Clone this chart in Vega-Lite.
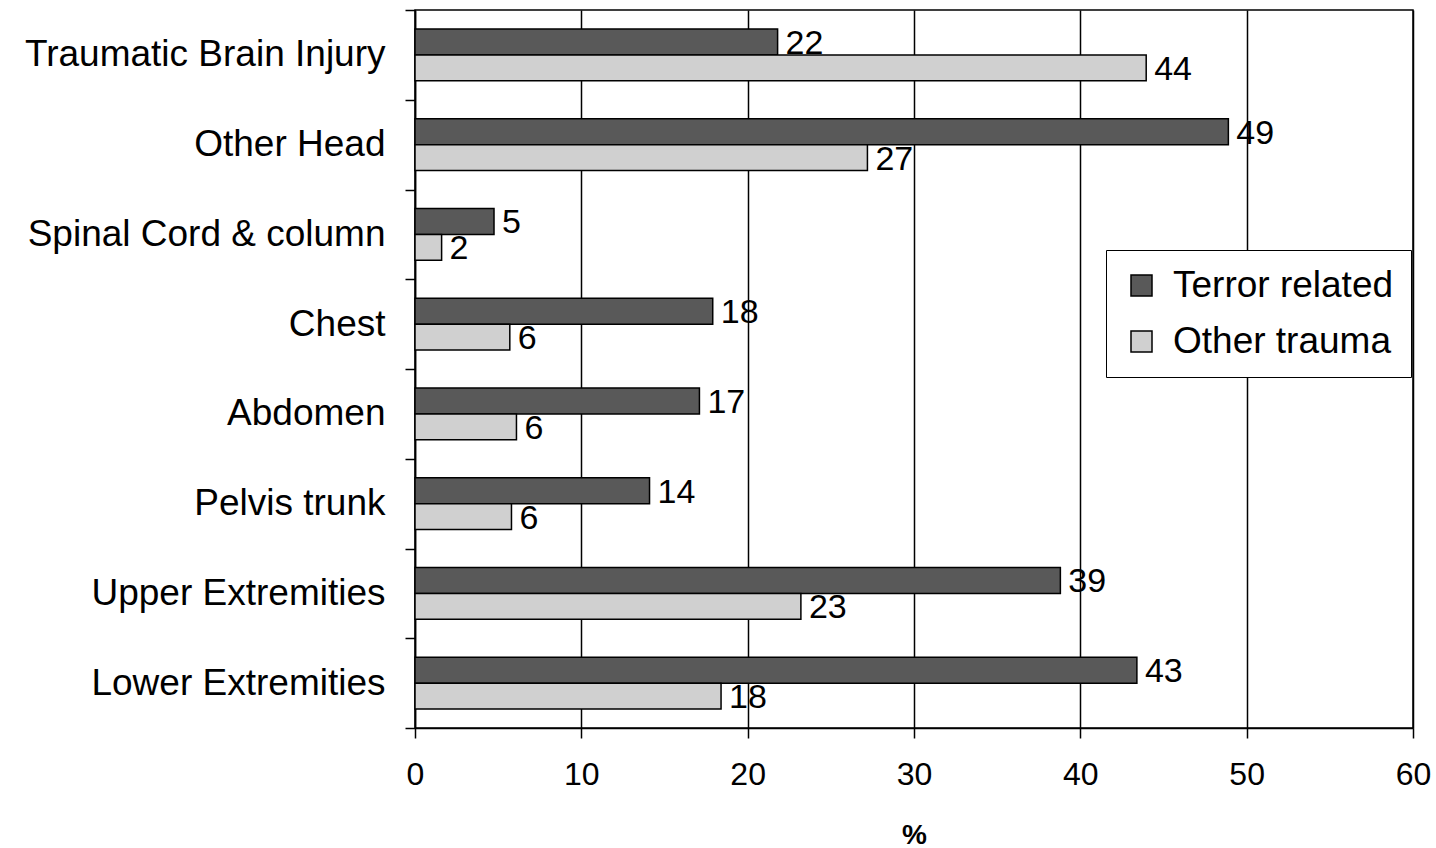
{
  "$schema": "https://vega.github.io/schema/vega-lite/v6.json",
  "width": 998,
  "height": 718,
  "autosize": "none",
  "padding": {"left": 415, "top": 10, "right": 23, "bottom": 120},
  "background": "white",
  "config": {
    "font": "Liberation Sans",
    "view": {"stroke": "black", "strokeWidth": 1.5}
  },
  "data": {
    "values": [
      {"category": "Traumatic Brain Injury", "series": "Terror related", "value": 21.8},
      {"category": "Traumatic Brain Injury", "series": "Other trauma", "value": 43.96},
      {"category": "Other Head", "series": "Terror related", "value": 48.9},
      {"category": "Other Head", "series": "Other trauma", "value": 27.2},
      {"category": "Spinal Cord & column", "series": "Terror related", "value": 4.75},
      {"category": "Spinal Cord & column", "series": "Other trauma", "value": 1.6},
      {"category": "Chest", "series": "Terror related", "value": 17.9},
      {"category": "Chest", "series": "Other trauma", "value": 5.7},
      {"category": "Abdomen", "series": "Terror related", "value": 17.1},
      {"category": "Abdomen", "series": "Other trauma", "value": 6.1},
      {"category": "Pelvis trunk", "series": "Terror related", "value": 14.1},
      {"category": "Pelvis trunk", "series": "Other trauma", "value": 5.8},
      {"category": "Upper Extremities", "series": "Terror related", "value": 38.8},
      {"category": "Upper Extremities", "series": "Other trauma", "value": 23.2},
      {"category": "Lower Extremities", "series": "Terror related", "value": 43.4},
      {"category": "Lower Extremities", "series": "Other trauma", "value": 18.4}
    ]
  },
  "encoding": {
    "y": {
      "field": "category",
      "type": "nominal",
      "sort": ["Traumatic Brain Injury", "Other Head", "Spinal Cord & column", "Chest", "Abdomen", "Pelvis trunk", "Upper Extremities", "Lower Extremities"],
      "scale": {"paddingInner": 0, "paddingOuter": 0},
      "axis": {
        "title": null,
        "tickBand": "extent",
        "domainColor": "black",
        "domainWidth": 1.5,
        "tickColor": "black",
        "tickWidth": 1.5,
        "tickSize": 10,
        "labelFontSize": 37,
        "labelColor": "black",
        "labelPadding": 20,
        "labelLimit": 500
      }
    },
    "yOffset": {
      "field": "series",
      "type": "nominal",
      "sort": ["Terror related", "Other trauma"],
      "scale": {"paddingInner": 0, "paddingOuter": 0.726}
    },
    "x": {
      "field": "value",
      "type": "quantitative",
      "scale": {"domain": [0, 60], "nice": false},
      "axis": {
        "title": "%",
        "values": [0, 10, 20, 30, 40, 50, 60],
        "labelFlush": false,
        "grid": true,
        "gridColor": "black",
        "gridWidth": 1.5,
        "domainColor": "black",
        "domainWidth": 1.5,
        "tickColor": "black",
        "tickWidth": 1.5,
        "tickSize": 10,
        "labelFontSize": 32,
        "labelColor": "black",
        "labelPadding": 21,
        "titleFontSize": 28,
        "titleFontWeight": "bold",
        "titleColor": "black",
        "titlePadding": 31
      }
    }
  },
  "layer": [
    {
      "mark": {"type": "bar", "stroke": "black", "strokeWidth": 1.5},
      "encoding": {
        "color": {
          "field": "series",
          "type": "nominal",
          "scale": {"domain": ["Terror related", "Other trauma"], "range": ["#595959", "#d0d0d0"]},
          "legend": {
            "title": null,
            "orient": "none",
            "legendX": 691,
            "legendY": 240,
            "padding": 17,
            "strokeColor": "black",
            "fillColor": "white",
            "symbolType": "square",
            "symbolSize": 441,
            "symbolStrokeColor": "black",
            "symbolStrokeWidth": 1.5,
            "symbolOpacity": 1,
            "labelFontSize": 37,
            "labelColor": "black",
            "labelOffset": 13,
            "rowPadding": 18,
            "labelLimit": 400
          }
        }
      }
    },
    {
      "mark": {"type": "text", "align": "left", "baseline": "middle", "dx": 8, "dy": 2, "fontSize": 34, "color": "black"},
      "encoding": {
        "text": {"field": "value", "type": "quantitative", "format": ".0f"}
      }
    }
  ]
}
